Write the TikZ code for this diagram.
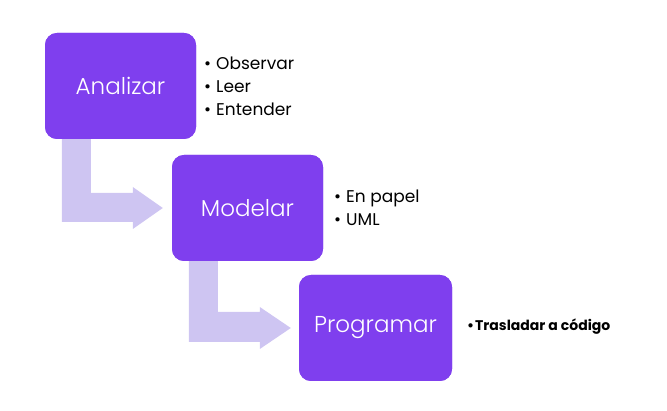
\documentclass[tikz,border=0pt]{standalone}
\usepackage{fontspec}
\setmainfont{Poppins}
\newfontfamily\lightfont{Poppins Light}
\usetikzlibrary{calc}
\definecolor{boxpurple}{HTML}{7F3FEE}
\definecolor{arrowlav}{HTML}{CEC5F2}
\tikzset{
  stage/.style={draw=none, fill=boxpurple, rounded corners=12pt, minimum width=151pt, minimum height=106pt, inner sep=0pt, text=white, font=\lightfont\fontsize{23}{26}\selectfont},
  bullets/.style={anchor=west, align=left, inner sep=0pt, font=\fontsize{17}{23}\selectfont, text=black},
  bentarrow/.style={fill=arrowlav, draw=none}
}
\begin{document}
\begin{tikzpicture}[x=1pt,y=-1pt]
\useasboundingbox (0,0) rectangle (667,411);
% nodes (placed first for anchor references, redrawn later on top)
\path (120.5,86) node[stage] (a) {\phantom{A}};
\path (247.5,208) node[stage] (m) {\phantom{M}};
\path (375.5,328) node[stage, minimum width=153pt] (p) {\phantom{P}};
% bent arrows
\fill[bentarrow] ($(a.south west)+(17,-5)$) -- ($(a.south west)+(46,-5)$)
  |- ($(m.west)+(-39,-15)$) -- ($(m.west)+(-39,-21)$) -- ($(m.west)+(-9,0)$)
  -- ($(m.west)+(-39,21)$) -- ($(m.west)+(-39,14)$) -| cycle;
\fill[bentarrow] ($(m.south west)+(17,-5)$) -- ($(m.south west)+(46,-5)$)
  |- ($(p.west)+(-39,-16)$) -- ($(p.west)+(-39,-21)$) -- ($(p.west)+(-8,0)$)
  -- ($(p.west)+(-39,21)$) -- ($(p.west)+(-39,14)$) -| cycle;
% boxes
\node[stage] at (a) {Analizar};
\node[stage] at (m) {Modelar};
\node[stage, minimum width=153pt] at (p) {Programar};
% bullet texts
\node[bullets] (ta) at (204,86) {•\hspace{5pt}Observar\\•\hspace{5pt}Leer\\•\hspace{5pt}Entender};
\node[bullets] (tm) at (334,207.5) {•\hspace{5pt}En papel\\•\hspace{5pt}UML};
\node[bullets, font=\fontsize{14}{16}\selectfont\bfseries] (tp) at (467,327) {•\hspace{1pt}Trasladar a código};
\end{tikzpicture}
\end{document}
